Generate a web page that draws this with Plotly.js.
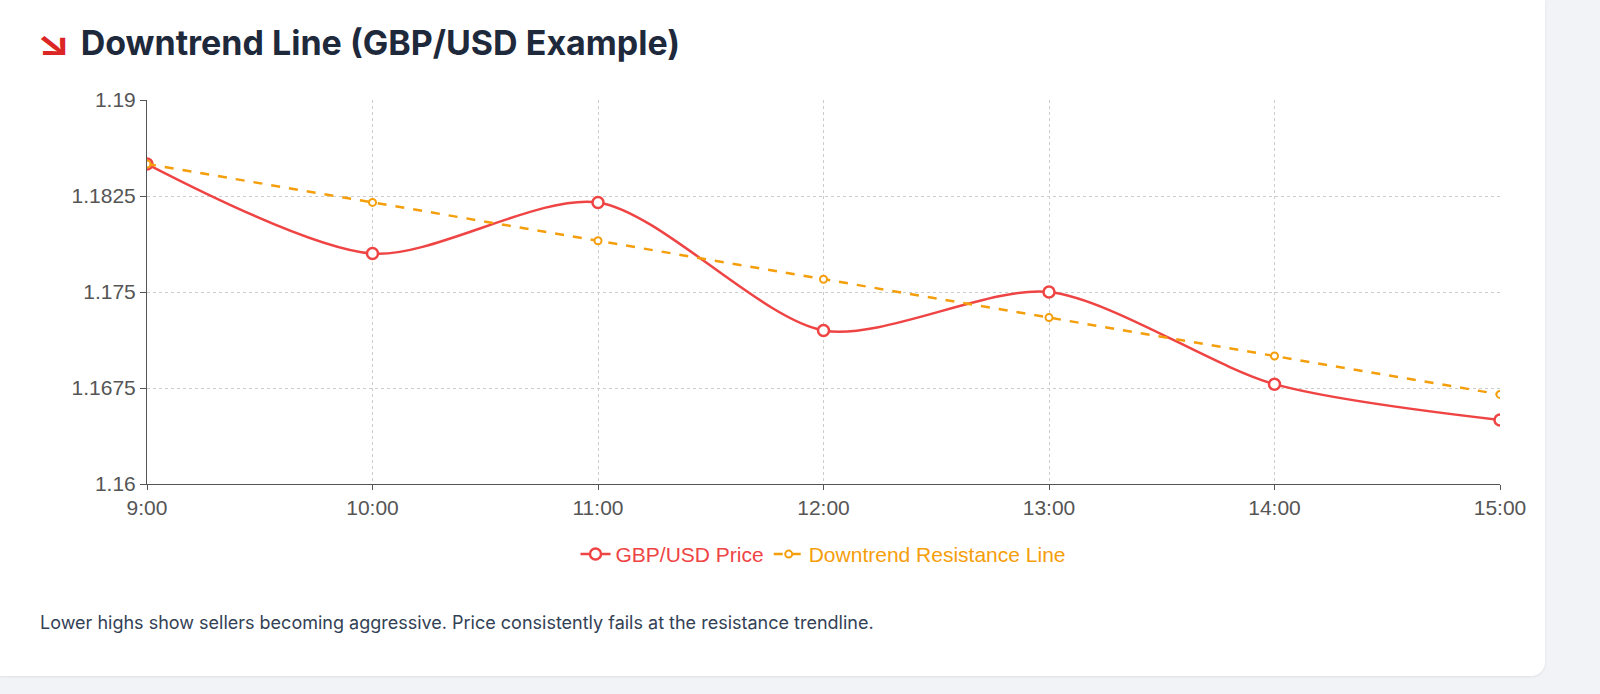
<!DOCTYPE html>
<html>
<head>
<meta charset="utf-8">
<script src="https://cdn.plot.ly/plotly-3.0.1.min.js"></script>
<style>
  body { margin:0; background:#f1f3f6; font-family: Inter, "Noto Sans", sans-serif; overflow:hidden; }
  .card { position:absolute; left:0; top:0; width:1545px; height:676px; background:#fff; border-radius:0 0 14px 0; box-shadow:0 1px 3px rgba(0,0,0,0.08); }
  h2 { position:absolute; left:40px; top:0px; margin:0; font-size:34px; font-weight:700; color:#1e293b; line-height:86px; }
  h2 .ic { color:#dc2626; font-size:34px; margin-right:14px; display:inline-block; transform:scaleX(1.3); }
  #plotDiv { position:absolute; left:0; top:82px; width:1545px; height:514px; }
  .note { position:absolute; left:40px; top:612px; font-size:18px; color:#334155; }
</style>
</head>
<body>
<div class="card">
  <h2><span class="ic">↘</span>Downtrend Line (GBP/USD Example)</h2>
  <div id="plotDiv"></div>
  <div class="note">Lower highs show sellers becoming aggressive. Price consistently fails at the resistance trendline.</div>
</div>
<script>
'use strict';
const times = ['9:00','10:00','11:00','12:00','13:00','14:00','15:00'];
const price = [1.185, 1.178, 1.182, 1.172, 1.175, 1.1678, 1.165];
const trend = [1.185, 1.182, 1.179, 1.176, 1.173, 1.170, 1.167];
const yTicks = [1.16, 1.1675, 1.175, 1.1825, 1.19];

var data = [{
    x: times, y: price, name: '<span style="color:#ef4444">GBP/USD Price</span>', type: 'scatter', mode: 'lines+markers',
    line: {color: '#ef4444', width: 2.5, shape: 'spline', smoothing: 0.8},
    marker: {size: 11, color: '#fff', line: {color: '#ef4444', width: 2.5}}
}, {
    x: times, y: trend, name: '<span style="color:#f59e0b">Downtrend Resistance Line</span>', type: 'scatter', mode: 'lines+markers',
    line: {color: '#f59e0b', width: 2.5, dash: 'dash'},
    marker: {size: 7, color: '#fff', line: {color: '#f59e0b', width: 2}}
}];

var layout = {
    font: {family: '"Liberation Sans", Arial, sans-serif', size: 21, color: '#555'},
    paper_bgcolor: 'rgba(0,0,0,0)', plot_bgcolor: '#fff',
    margin: {l: 147, r: 45, t: 18, b: 112},
    showlegend: true,
    legend: {orientation: 'h', x: 0.5, xanchor: 'center', y: -0.13, yanchor: 'top', font: {size: 21}},
    xaxis: {type: 'category', range: [0, 6], showgrid: true, gridcolor: '#ccc', griddash: 'dot',
            showline: true, linecolor: '#555', ticks: 'outside', ticklen: 5, tickcolor: '#555', zeroline: false},
    yaxis: {range: [1.16, 1.19], tickvals: yTicks, ticktext: yTicks.map(String), showgrid: true, gridcolor: '#ccc',
            griddash: 'dot', showline: true, linecolor: '#555', ticks: 'outside', ticklen: 6, tickcolor: '#555', zeroline: false}
};
Plotly.newPlot('plotDiv', data, layout, {displayModeBar: false});
</script>
</body>
</html>
